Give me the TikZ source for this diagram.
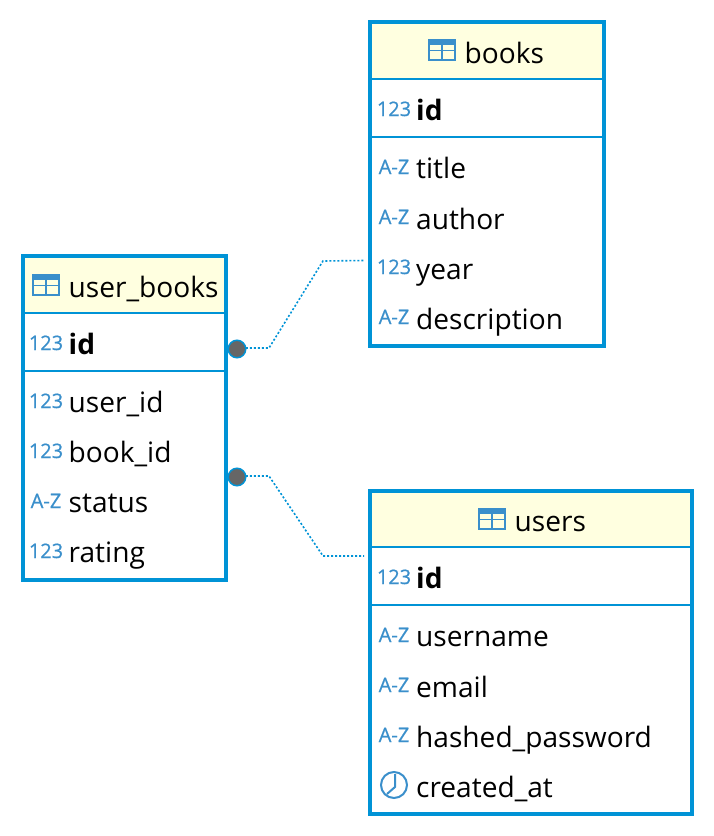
\documentclass[tikz,border=0pt]{standalone}
\usepackage{fontspec}
\setmainfont{Open Sans}
\newfontfamily\iconfam[FakeBold=0.7]{Open Sans}
\definecolor{edge}{HTML}{0093D6}
\definecolor{icon}{HTML}{3A8FCB}
\definecolor{headfill}{HTML}{FFFFE0}
\definecolor{dotfill}{HTML}{666666}
\newcommand{\rowfont}{\fontsize{28.1}{28}\selectfont}
\newcommand{\iconfont}{\iconfam\fontsize{20}{20}\selectfont}
\tikzset{
  tablebox/.style={draw=edge,line width=4pt,rectangle,inner sep=0pt,outer sep=0pt,anchor=north west},
  headbox/.style={fill=headfill,rectangle,inner sep=0pt,outer sep=0pt,anchor=north west},
  sepline/.style={draw=edge,line width=2pt},
  rowtext/.style={anchor=base west,inner sep=0pt,font=\rowfont,text=black},
  headtext/.style={anchor=base west,inner sep=0pt,font=\rowfont,text=black},
  keytext/.style={anchor=base west,inner sep=0pt,font=\rowfont\bfseries,text=black},
  icontext/.style={anchor=base,inner sep=0pt,font=\iconfont,text=icon},
  conn/.style={draw=edge,line width=1.6pt,dash pattern=on 2pt off 2pt},
  dotmark/.style={circle,draw=edge,fill=dotfill,line width=1.5pt,minimum size=17.5pt,inner sep=0pt,outer sep=0pt},
  tabicon/.style={draw=icon,line width=1.6pt},
}
\newcommand{\tabglyph}[2]{%
  \fill[icon] (#1,#2) rectangle ++(28,6);
  \draw[tabicon] (#1+.8,#2+1) rectangle (#1+27.2,#2+21);
  \draw[tabicon] (#1+.8,#2+11.5) -- (#1+27.2,#2+11.5);
  \draw[tabicon] (#1+14,#2+2) -- (#1+14,#2+21);
}
\newcommand{\numicon}[3]{\node[icontext] (#3) at (#1,#2+1) {123};}
\newcommand{\azicon}[3]{\node[icontext] (#3) at (#1,#2+1) {A-Z};}
\begin{document}
\begin{tikzpicture}[x=1pt,y=-1pt]
\useasboundingbox (0,0) rectangle (714,836);
% user_books
\node[headbox,minimum width=203.5pt,minimum height=57pt] (ubhead) at (22.5,256) {};
\node[tablebox,minimum width=203.5pt,minimum height=324pt] (ub) at (22.5,256) {};
\draw[sepline] (ub.west |- 0,313) -- (ub.east |- 0,313);
\draw[sepline] (ub.west |- 0,371) -- (ub.east |- 0,371);
\tabglyph{32}{274}
\node[headtext] (ubt) at (68.5,297) {user\_books};
\numicon{46}{349}{ubi1}\node[keytext] (ub1) at (68.5,354) {id};
\numicon{46}{407}{ubi2}\node[rowtext] (ub2) at (68.5,412) {user\_id};
\numicon{46}{457}{ubi3}\node[rowtext] (ub3) at (68.5,462) {book\_id};
\azicon{46}{507}{ubi4}\node[rowtext] (ub4) at (68.5,512) {status};
\numicon{46}{557}{ubi5}\node[rowtext] (ub5) at (68.5,562) {rating};
% books
\node[headbox,minimum width=234pt,minimum height=57pt] (bhead) at (370,22) {};
\node[tablebox,minimum width=234pt,minimum height=324pt] (b) at (370,22) {};
\draw[sepline] (b.west |- 0,79) -- (b.east |- 0,79);
\draw[sepline] (b.west |- 0,137) -- (b.east |- 0,137);
\tabglyph{428}{39}
\node[headtext] (bt) at (464.5,63) {books};
\numicon{394}{115}{bi1}\node[keytext] (b1) at (416,120) {id};
\azicon{394}{173}{bi2}\node[rowtext] (b2) at (416,178) {title};
\azicon{394}{223}{bi3}\node[rowtext] (b3) at (416,229) {author};
\numicon{394}{273}{bi4}\node[rowtext] (b4) at (416,279) {year};
\azicon{394}{323}{bi5}\node[rowtext] (b5) at (416,329) {description};
% users
\node[headbox,minimum width=322pt,minimum height=56pt] (uhead) at (370,491) {};
\node[tablebox,minimum width=322pt,minimum height=323pt] (u) at (370,491) {};
\draw[sepline] (u.west |- 0,547) -- (u.east |- 0,547);
\draw[sepline] (u.west |- 0,605) -- (u.east |- 0,605);
\tabglyph{478}{508}
\node[headtext] (ut) at (514.5,531) {users};
\numicon{394}{583}{ui1}\node[keytext] (u1) at (416,588) {id};
\azicon{394}{641}{ui2}\node[rowtext] (u2) at (416,646) {username};
\azicon{394}{691}{ui3}\node[rowtext] (u3) at (416,697) {email};
\azicon{394}{741}{ui4}\node[rowtext] (u4) at (416,747) {hashed\_password};
\node[circle,draw=icon,line width=2pt,minimum size=26pt,inner sep=0pt] (uclock) at (394,785) {};
\draw[icon,line width=2pt] (395,774) -- (395,787) -- (387,794);
\node[rowtext] (u5) at (416,797) {created\_at};
% connectors
\node[dotmark] (dotA) at (237,349) {};
\node[dotmark] (dotB) at (237,477) {};
\coordinate (a1) at (269,348);
\coordinate (a2) at (323,261);
\coordinate (a3) at (364,260.5);
\coordinate (b1c) at (269,476);
\coordinate (b2c) at (323,556);
\coordinate (b3c) at (364,556);
\draw[conn] (dotA.east |- a1) -- (a1) -- (a2) -- (a3);
\draw[conn] (dotB.east |- b1c) -- (b1c) -- (b2c) -- (b3c);
\end{tikzpicture}
\end{document}
